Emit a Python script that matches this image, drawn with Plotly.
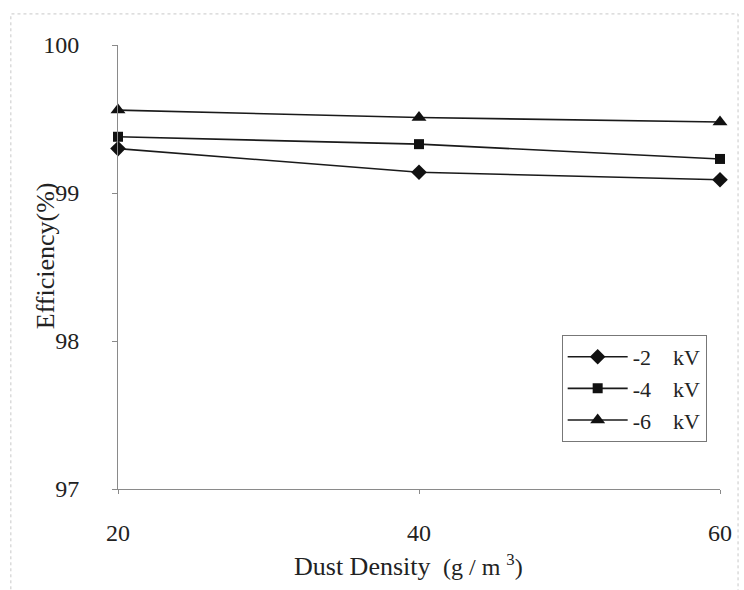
import plotly.graph_objects as go

# Dust density (g/m^3) and collection efficiency (%) per applied voltage
dust_density = [20, 40, 60]
eff_2kv = [99.30, 99.14, 99.09]
eff_4kv = [99.38, 99.33, 99.23]
eff_6kv = [99.56, 99.51, 99.48]

GAP = "\u00a0" * 4
series = [
    (f"-2{GAP}kV", eff_2kv, "diamond", 12),
    (f"-4{GAP}kV", eff_4kv, "square", 10),
    (f"-6{GAP}kV", eff_6kv, "triangle-up", 13),
]

FONT = "Liberation Serif, Times New Roman, serif"

fig = go.Figure()
for name, vals, sym, size in series:
    fig.add_trace(go.Scatter(
        x=dust_density, y=vals, name=name, mode="lines+markers",
        line=dict(color="#1a1a1a", width=1.6),
        marker=dict(symbol=sym, size=size, color="#111111"),
        cliponaxis=False,
    ))

fig.update_layout(
    width=744, height=590,
    margin=dict(l=118, r=22, t=45, b=101),
    paper_bgcolor="white", plot_bgcolor="white",
    font=dict(family=FONT, size=24, color="#222222"),
    showlegend=True,
    legend=dict(
        x=0.737, y=0.347, xanchor="left", yanchor="top",
        bgcolor="white", bordercolor="#777777", borderwidth=1,
        font=dict(family=FONT, size=22, color="#222222"),
        itemwidth=60, tracegroupgap=0,
    ),
    xaxis=dict(
        range=[20, 60], tickvals=dust_density, showgrid=False, zeroline=False,
        showline=True, linecolor="#8a8a8a", linewidth=1,
        ticks="outside", ticklen=4, tickcolor="#8a8a8a",
        ticklabelstandoff=18,
    ),
    yaxis=dict(
        range=[97, 100], dtick=1, showgrid=False, zeroline=False,
        showline=True, linecolor="#8a8a8a", linewidth=1,
        ticks="outside", ticklen=5, tickcolor="#8a8a8a",
        ticklabelstandoff=28,
    ),
    annotations=[
        dict(text="Dust Density <span style='font-size:24px'>\u00a0(g\u00a0/\u00a0m\u00a0<sup>3</sup>)</span>",
             xref="paper", yref="paper", x=(409 - 118) / 604, y=-(565 - 489) / 444,
             xanchor="center", yanchor="middle", showarrow=False,
             font=dict(family=FONT, size=26, color="#222222")),
        dict(text="Efficiency(%)", textangle=-90,
             xref="paper", yref="paper", x=-(118 - 45) / 604, y=(489 - 256) / 444,
             xanchor="center", yanchor="middle", showarrow=False,
             font=dict(family=FONT, size=26, color="#222222")),
    ],
    shapes=[
        dict(type="rect", xref="paper", yref="paper",
             x0=-0.178, x1=1.03, y0=-0.23, y1=1.07,
             line=dict(color="#c8c8c8", width=1, dash="dot")),
    ],
)

fig.write_html("out.html")
